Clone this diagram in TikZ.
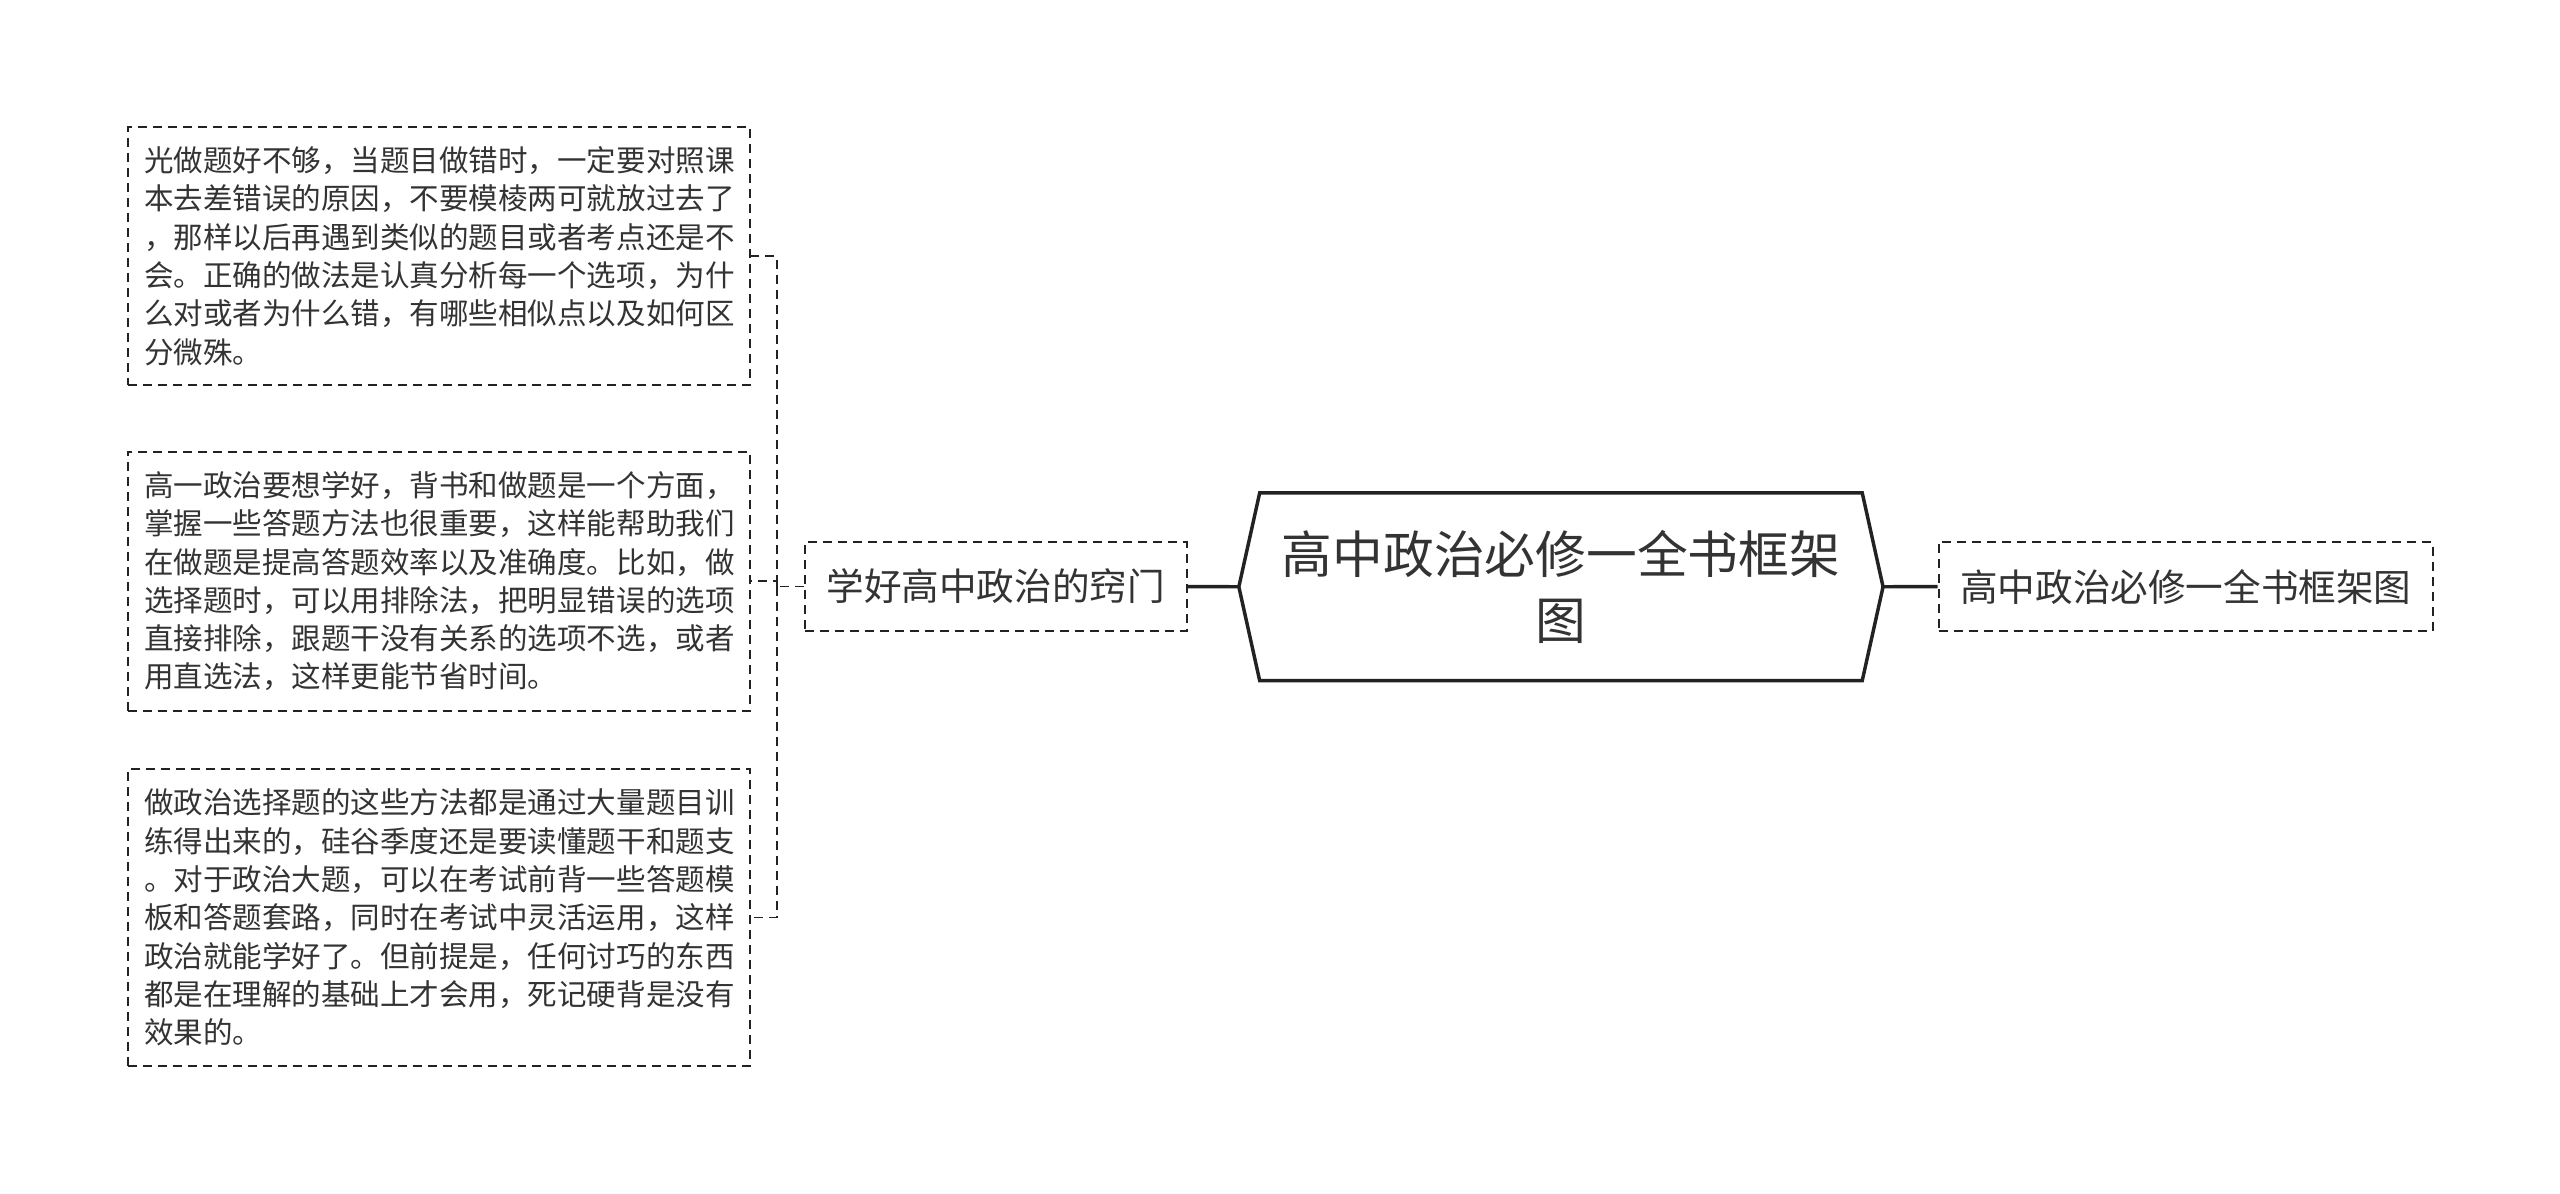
\documentclass[tikz,border=0pt]{standalone}
\usepackage{fontspec}
\newfontfamily\cjk{Noto Sans CJK SC}
\definecolor{ink}{HTML}{333333}
\definecolor{rule}{HTML}{222222}
\begin{document}
\begin{tikzpicture}[
    leaf/.style={draw=rule, line width=0.8pt, dash pattern=on 3.9pt off 2.6pt, text=ink,
      font=\cjk\fontsize{12.8}{16.6}\selectfont, text width=8.985cm, align=left,
      inner xsep=0.25cm, inner ysep=0.3cm, anchor=west},
    branch/.style={draw=rule, line width=0.8pt, dash pattern=on 3.9pt off 2.6pt, text=ink,
      font=\cjk\fontsize{16.3}{20}\selectfont, minimum height=1.347cm, inner xsep=0.33cm, anchor=west},
    link/.style={draw=rule, line width=0.8pt, dash pattern=on 3.9pt off 2.6pt},
    trunk/.style={draw=rule, line width=1.5pt}]
  \useasboundingbox (0,0) rectangle (39,18.175);
  \node[font=\cjk\fontsize{22}{28.5}\selectfont, text=ink, align=center, minimum width=9.166cm,
    minimum height=2.844cm, inner sep=0] (hub) at (23.78,9.236) {高中政治必修一全书框架\\图};
  \draw[trunk] (hub.north west) -- (hub.north east) -- ([xshift=0.317cm]hub.east) coordinate (tipR)
    -- (hub.south east) -- (hub.south west) -- ([xshift=-0.317cm]hub.west) coordinate (tipL) -- cycle;
  \node[branch] (tips) at (12.248,9.239) {学好高中政治的窍门};
  \node[branch] (title) at (29.519,9.239) {高中政治必修一全书框架图};
  \node[leaf] (b1) at (1.93,14.272) {光做题好不够，当题目做错时，一定要对照课\\本去差错误的原因，不要模棱两可就放过去了\\，那样以后再遇到类似的题目或者考点还是不\\会。正确的做法是认真分析每一个选项，为什\\么对或者为什么错，有哪些相似点以及如何区\\分微殊。};
  \node[leaf] (b2) at (1.93,9.32) {高一政治要想学好，背书和做题是一个方面，\\掌握一些答题方法也很重要，这样能帮助我们\\在做题是提高答题效率以及准确度。比如，做\\选择题时，可以用排除法，把明显错误的选项\\直接排除，跟题干没有关系的选项不选，或者\\用直选法，这样更能节省时间。};
  \node[leaf] (b3) at (1.93,4.197) {做政治选择题的这些方法都是通过大量题目训\\练得出来的，硅谷季度还是要读懂题干和题支\\。对于政治大题，可以在考试前背一些答题模\\板和答题套路，同时在考试中灵活运用，这样\\政治就能学好了。但前提是，任何讨巧的东西\\都是在理解的基础上才会用，死记硬背是没有\\效果的。};
  \draw[trunk] (tipL) -- (tips.east);
  \draw[trunk] (tipR) -- (title.west);
  \coordinate (fork) at ([xshift=-0.416cm]tips.west);
  \draw[link] (tips.west) -- (fork) |- (b1.east);
  \draw[link] (fork) |- (b2.east);
  \draw[link] (fork) |- (b3.east);
\end{tikzpicture}
\end{document}
